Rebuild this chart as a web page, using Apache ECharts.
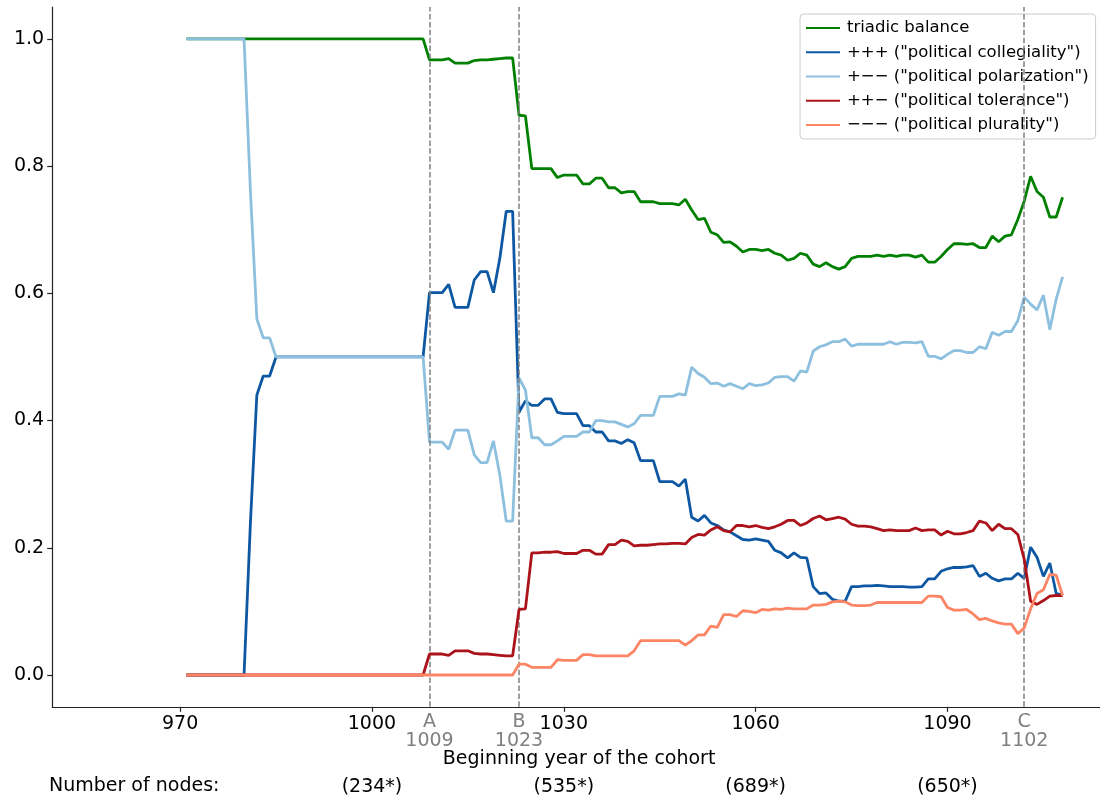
<!DOCTYPE html>
<html>
<head>
<meta charset="utf-8">
<script src="https://cdn.jsdelivr.net/npm/echarts@6/dist/echarts.min.js"></script>
<style>
html,body{margin:0;padding:0;background:#fff;}
#chart{width:1100px;height:798px;}
</style>
</head>
<body>
<div id="chart"></div>
<script>
// ---- data ----
const years = [
  971, 972, 973, 974, 975, 976, 977, 978, 979, 980,
  981, 982, 983, 984, 985, 986, 987, 988, 989, 990,
  991, 992, 993, 994, 995, 996, 997, 998, 999, 1000,
  1001, 1002, 1003, 1004, 1005, 1006, 1007, 1008, 1009, 1010,
  1011, 1012, 1013, 1014, 1015, 1016, 1017, 1018, 1019, 1020,
  1021, 1022, 1023, 1024, 1025, 1026, 1027, 1028, 1029, 1030,
  1031, 1032, 1033, 1034, 1035, 1036, 1037, 1038, 1039, 1040,
  1041, 1042, 1043, 1044, 1045, 1046, 1047, 1048, 1049, 1050,
  1051, 1052, 1053, 1054, 1055, 1056, 1057, 1058, 1059, 1060,
  1061, 1062, 1063, 1064, 1065, 1066, 1067, 1068, 1069, 1070,
  1071, 1072, 1073, 1074, 1075, 1076, 1077, 1078, 1079, 1080,
  1081, 1082, 1083, 1084, 1085, 1086, 1087, 1088, 1089, 1090,
  1091, 1092, 1093, 1094, 1095, 1096, 1097, 1098, 1099, 1100,
  1101, 1102, 1103, 1104, 1105, 1106, 1107, 1108
];

const triadicBalance = [
  1, 1, 1, 1, 1, 1, 1, 1, 1, 1,
  1, 1, 1, 1, 1, 1, 1, 1, 1, 1,
  1, 1, 1, 1, 1, 1, 1, 1, 1, 1,
  1, 1, 1, 1, 1, 1, 1, 1, .967, .967,
  .967, .969, .962, .962, .962, .966, .967, .967, .968, .969,
  .970, .970, .880, .879, .796, .796, .796, .796, .782, .786,
  .786, .786, .772, .772, .781, .781, .766, .766, .758, .760,
  .760, .744, .744, .744, .741, .741, .741, .739, .748, .731,
  .716, .718, .696, .692, .680, .681, .674, .665, .669, .669,
  .667, .669, .663, .660, .652, .655, .663, .660, .646, .642,
  .648, .642, .638, .642, .655, .658, .658, .658, .660, .658,
  .660, .658, .660, .660, .657, .660, .649, .649, .658, .669,
  .678, .678, .677, .678, .672, .672, .690, .681, .690, .692,
  .716, .745, .784, .760, .751, .720, .720, .751
];

const collegiality = [
  0, 0, 0, 0, 0, 0, 0, 0, 0, 0,
  .24, .44, .47, .47, .5, .5, .5, .5, .5, .5,
  .5, .5, .5, .5, .5, .5, .5, .5, .5, .5,
  .5, .5, .5, .5, .5, .5, .5, .5, .601, .601,
  .601, .614, .578, .578, .578, .621, .634, .634, .601, .655,
  .729, .729, .413, .431, .424, .424, .434, .434, .413, .411,
  .411, .411, .392, .392, .382, .382, .368, .368, .364, .370,
  .365, .337, .337, .337, .304, .304, .304, .297, .308, .248,
  .242, .251, .239, .235, .228, .225, .219, .213, .212, .214,
  .212, .210, .196, .192, .184, .192, .185, .184, .139, .128,
  .129, .119, .116, .116, .139, .139, .140, .140, .141, .140,
  .139, .139, .139, .138, .138, .139, .151, .151, .163, .167,
  .169, .169, .170, .172, .155, .160, .152, .148, .151, .151,
  .160, .152, .201, .185, .155, .176, .128, .126
];

const polarization = [
  1, 1, 1, 1, 1, 1, 1, 1, 1, 1,
  .76, .56, .53, .53, .5, .5, .5, .5, .5, .5,
  .5, .5, .5, .5, .5, .5, .5, .5, .5, .5,
  .5, .5, .5, .5, .5, .5, .5, .5, .366, .366,
  .366, .355, .385, .385, .385, .346, .334, .334, .368, .314,
  .242, .242, .467, .448, .373, .373, .362, .362, .368, .375,
  .375, .375, .382, .382, .400, .400, .398, .398, .394, .390,
  .395, .408, .408, .408, .438, .438, .438, .442, .440, .484,
  .474, .468, .458, .459, .454, .458, .454, .450, .458, .455,
  .456, .459, .468, .469, .469, .462, .478, .476, .509, .516,
  .519, .524, .524, .528, .517, .520, .520, .520, .520, .520,
  .524, .520, .523, .523, .522, .524, .501, .501, .497, .504,
  .510, .510, .507, .507, .516, .513, .539, .534, .540, .540,
  .557, .594, .583, .574, .597, .543, .591, .626
];

const tolerance = [
  0, 0, 0, 0, 0, 0, 0, 0, 0, 0,
  0, 0, 0, 0, 0, 0, 0, 0, 0, 0,
  0, 0, 0, 0, 0, 0, 0, 0, 0, 0,
  0, 0, 0, 0, 0, 0, 0, 0, .033, .033,
  .033, .031, .038, .038, .038, .034, .033, .033, .032, .031,
  .030, .030, .103, .104, .192, .192, .193, .193, .194, .191,
  .191, .191, .196, .196, .190, .190, .205, .205, .212, .210,
  .203, .204, .204, .205, .206, .206, .207, .207, .206, .216,
  .221, .220, .228, .233, .227, .225, .235, .235, .233, .235,
  .232, .230, .233, .237, .243, .243, .235, .239, .246, .250,
  .244, .246, .248, .245, .237, .234, .234, .233, .230, .227,
  .228, .227, .227, .227, .231, .227, .228, .228, .220, .226,
  .222, .222, .224, .227, .242, .239, .227, .237, .230, .230,
  .221, .182, .116, .111, .117, .124, .125, .125
];

const plurality = [
  0, 0, 0, 0, 0, 0, 0, 0, 0, 0,
  0, 0, 0, 0, 0, 0, 0, 0, 0, 0,
  0, 0, 0, 0, 0, 0, 0, 0, 0, 0,
  0, 0, 0, 0, 0, 0, 0, 0, 0, 0,
  0, 0, 0, 0, 0, 0, 0, 0, 0, 0,
  0, 0, .017, .017, .012, .012, .012, .012, .024, .023,
  .023, .023, .032, .032, .030, .030, .030, .030, .030, .030,
  .038, .054, .054, .054, .054, .054, .054, .054, .047, .054,
  .063, .063, .077, .075, .095, .095, .092, .101, .100, .098,
  .103, .102, .104, .103, .105, .104, .104, .104, .110, .110,
  .111, .115, .116, .115, .110, .109, .109, .110, .114, .114,
  .114, .114, .114, .114, .114, .114, .124, .124, .123, .106,
  .102, .102, .103, .096, .087, .089, .085, .082, .080, .080,
  .065, .074, .104, .128, .134, .158, .157, .125
];

const seriesNames = [
  'triadic balance',
  '+++ ("political collegiality")',
  '+\u2212\u2212 ("political polarization")',
  '++\u2212 ("political tolerance")',
  '\u2212\u2212\u2212 ("political plurality")'
];
const seriesColors = ['#008000', '#0e58a3', '#8dc0de', '#ab1219', '#fc8565'];
const seriesValues = [triadicBalance, collegiality, polarization, tolerance, plurality];

const xTicks = [970, 1000, 1030, 1060, 1090];
const yTicks = [0, 0.2, 0.4, 0.6, 0.8, 1.0];
const markerYears = [1009, 1023, 1102];
const markerLetters = ['A', 'B', 'C'];
const nodeYears = [1000, 1030, 1060, 1090];
const nodeLabels = ['(234*)', '(535*)', '(689*)', '(650*)'];

// ---- chart ----
const FONT = 'DejaVu Sans';
const chart = echarts.init(document.getElementById('chart'), null, {renderer: 'canvas'});

const series = seriesNames.map((name, i) => {
  const s = {
    name: name,
    type: 'line',
    data: years.map((y, k) => [y, seriesValues[i][k]]),
    showSymbol: false,
    symbol: 'none',
    lineStyle: {color: seriesColors[i], width: 2.8},
    itemStyle: {color: seriesColors[i]},
    emphasis: {disabled: true},
    animation: false,
    z: 2 + i
  };
  if (i === 0) {
    s.markLine = {
      silent: true,
      symbol: 'none',
      animation: false,
      label: {show: false},
      lineStyle: {color: '#808080', width: 1.5, type: [5.5, 2.4]},
      data: markerYears.map(v => ({xAxis: v}))
    };
  }
  return s;
});

const axisBase = {
  type: 'value',
  min: 950,
  max: 1113.85,
  gridIndex: 0,
  position: 'bottom',
  splitLine: {show: false}
};

chart.setOption({
  backgroundColor: '#ffffff',
  animation: false,
  title: {
    text: 'Number of nodes:',
    left: 49,
    top: 777,
    padding: 0,
    textStyle: {fontFamily: FONT, fontSize: 19, fontWeight: 'normal', color: '#000'}
  },
  legend: {
    orient: 'vertical',
    left: 800,
    top: 14,
    padding: [2, 7, 2, 6],
    itemWidth: 34,
    itemHeight: 2,
    itemGap: 0,
    icon: 'rect',
    selectedMode: false,
    backgroundColor: 'rgba(255,255,255,0.8)',
    borderColor: '#cccccc',
    borderWidth: 1,
    borderRadius: 4,
    textStyle: {fontFamily: FONT, fontSize: 16.5, color: '#000', lineHeight: 24.2, padding: [0, 0, 0, 2]},
    itemTextGap: 11,
    data: seriesNames
  },
  grid: {left: 52.2, top: 7.1, right: 0, height: 699.7, containLabel: false},
  xAxis: [
    Object.assign({}, axisBase, {
      name: 'Beginning year of the cohort',
      nameLocation: 'middle',
      nameGap: 43,
      nameTextStyle: {fontFamily: FONT, fontSize: 19, color: '#000', padding: [0, 0, 0, 6]},
      axisLine: {show: true, onZero: false, lineStyle: {color: '#222', width: 1.2}},
      axisTick: {show: true, customValues: xTicks, length: 5, lineStyle: {color: '#222', width: 1.2}},
      axisLabel: {customValues: xTicks, fontFamily: FONT, fontSize: 19, color: '#000', margin: 8,
        formatter: v => String(Math.round(v))}
    }),
    Object.assign({}, axisBase, {
      axisLine: {show: false},
      axisTick: {show: false},
      axisLabel: {
        customValues: markerYears,
        fontFamily: FONT, fontSize: 19, color: '#808080', lineHeight: 19, margin: 6,
        formatter: v => {
          const k = markerYears.indexOf(Math.round(v));
          return markerLetters[k] + '\n' + markerYears[k];
        }
      }
    }),
    Object.assign({}, axisBase, {
      axisLine: {show: false},
      axisTick: {show: false},
      axisLabel: {
        customValues: nodeYears,
        fontFamily: FONT, fontSize: 19, color: '#000', margin: 71,
        formatter: v => nodeLabels[nodeYears.indexOf(Math.round(v))]
      }
    })
  ],
  yAxis: {
    type: 'value',
    min: -0.05,
    max: 1.05,
    splitLine: {show: false},
    axisLine: {show: true, onZero: false, lineStyle: {color: '#222', width: 1.2}},
    axisTick: {show: true, customValues: yTicks, length: 5, lineStyle: {color: '#222', width: 1.2}},
    axisLabel: {
      customValues: yTicks,
      fontFamily: FONT, fontSize: 19, color: '#000', margin: 8,
      formatter: v => v.toFixed(1)
    }
  },
  series: series
});
</script>
</body>
</html>
